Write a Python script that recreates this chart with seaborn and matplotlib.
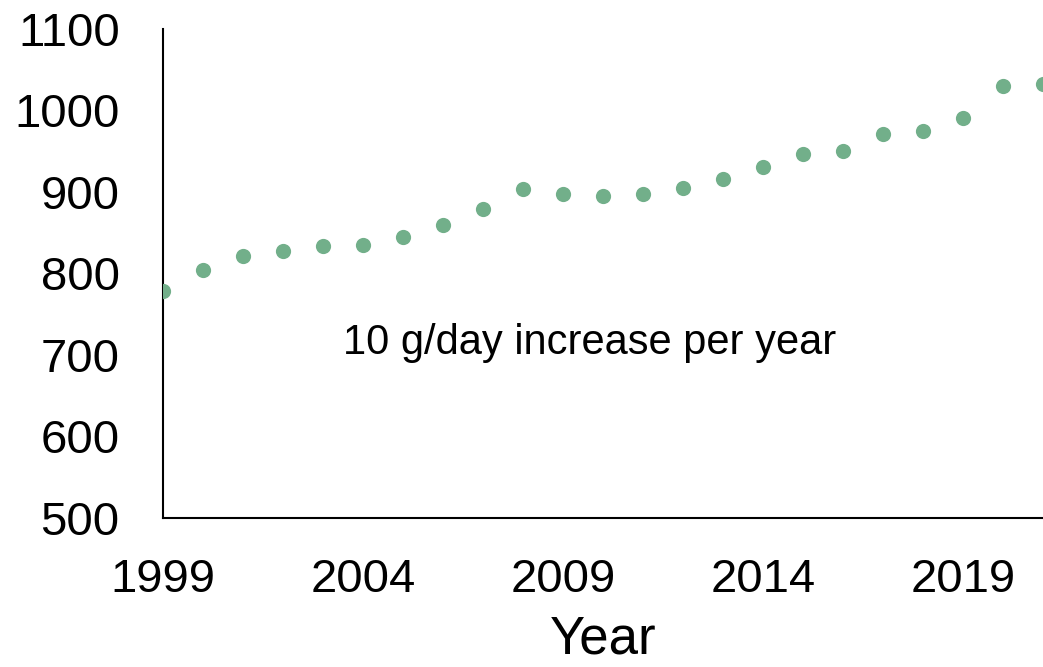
import matplotlib
matplotlib.use("Agg")
import matplotlib.pyplot as plt
import seaborn as sns
import pandas as pd

# data
years = list(range(1999, 2022))
values = [778, 804, 821, 827, 833, 835, 844, 859, 879, 904, 898,
          895, 898, 905, 916, 931, 947, 950, 971, 975, 991, 1030, 1032]
x_ticks = [1999, 2004, 2009, 2014, 2019]
y_ticks = [500, 600, 700, 800, 900, 1000, 1100]
note = "10 g/day increase per year"

sns.set_style("white")
plt.rcParams["font.family"] = ["Liberation Sans", "DejaVu Sans"]
plt.rcParams["text.color"] = "black"
plt.rcParams["xtick.color"] = "black"
plt.rcParams["ytick.color"] = "black"
plt.rcParams["axes.labelcolor"] = "black"

df = pd.DataFrame({"Year": years, "Value": values})

fig = plt.figure(figsize=(10.43, 6.67), dpi=100)
ax = fig.add_axes([0.156, 0.224, 0.844, 0.7325])

sns.scatterplot(data=df, x="Year", y="Value", ax=ax, color="#72AF8A",
                s=120, linewidth=0, zorder=3)

ax.set_xlim(1999, 2021)
ax.set_ylim(500, 1100)
ax.set_xticks(x_ticks)
ax.set_yticks(y_ticks)
ax.tick_params(axis="both", length=0, labelsize=34)
ax.tick_params(axis="x", pad=29)
ax.tick_params(axis="y", pad=31)

ax.set_xlabel("Year", fontsize=38, labelpad=9)
ax.set_ylabel("")

for side in ["top", "right"]:
    ax.spines[side].set_visible(False)
for side in ["left", "bottom"]:
    ax.spines[side].set_color("black")
    ax.spines[side].set_linewidth(1.5)

ax.text(2009.67, 714, note, ha="center", va="center", fontsize=30)

fig.savefig("out.png", dpi=100)
